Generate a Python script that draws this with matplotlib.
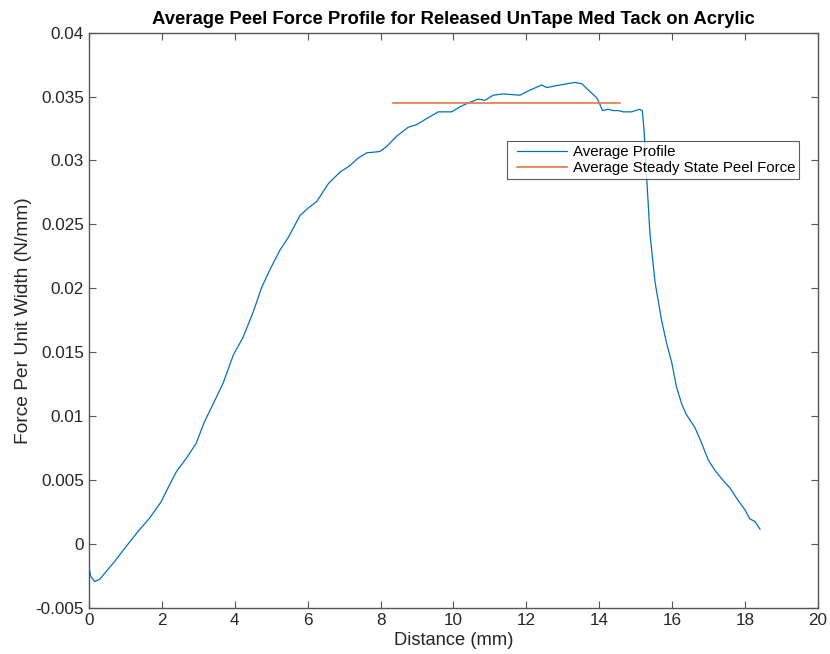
import matplotlib
matplotlib.use("Agg")
import matplotlib.pyplot as plt
from matplotlib.legend_handler import HandlerLine2D

# Averaged peel profile (distance in mm, force per unit width in N/mm)
distance_mm = [0.00, 0.05, 0.16, 0.30, 0.43, 0.70, 0.98, 1.34, 1.66, 1.98,
               2.20, 2.40, 2.67, 2.94, 3.17, 3.41, 3.68, 3.96, 4.23, 4.51,
               4.74, 4.97, 5.24, 5.47, 5.79, 6.02, 6.25, 6.57, 6.89, 7.16,
               7.39, 7.62, 7.98, 8.17, 8.44, 8.76, 8.99, 9.22, 9.58, 9.95,
               10.18, 10.41, 10.68, 10.86, 11.09, 11.37, 11.82, 12.10, 12.42, 12.56,
               12.92, 13.33, 13.52, 13.74, 13.93, 14.00, 14.09, 14.24, 14.38, 14.52,
               14.66, 14.89, 15.10, 15.18, 15.23, 15.30, 15.39, 15.53, 15.71, 15.85,
               15.99, 16.12, 16.26, 16.38, 16.63, 16.81, 16.99, 17.17, 17.40, 17.59,
               17.77, 18.00, 18.13, 18.27, 18.41]
force_n_per_mm = [-0.0018, -0.0025, -0.0029, -0.0027, -0.00225, -0.00134, -0.0003, 0.0010, 0.00205, 0.00334,
                  0.0046, 0.0057, 0.00673, 0.0079, 0.0096, 0.0110, 0.0126, 0.0148, 0.0162, 0.0182,
                  0.0201, 0.0215, 0.0230, 0.0240, 0.0257, 0.0263, 0.0268, 0.0282, 0.0291, 0.0296,
                  0.0302, 0.0306, 0.0307, 0.0311, 0.0319, 0.0326, 0.0328, 0.0332, 0.0338, 0.0338,
                  0.0342, 0.0345, 0.0348, 0.0347, 0.0351, 0.0352, 0.0351, 0.0355, 0.0359, 0.0357,
                  0.0359, 0.0361, 0.0360, 0.0354, 0.0349, 0.0345, 0.0339, 0.0340, 0.0339, 0.0339,
                  0.0338, 0.0338, 0.0340, 0.0339, 0.0323, 0.0287, 0.0243, 0.0205, 0.0175, 0.0157,
                  0.0142, 0.0123, 0.0110, 0.0102, 0.0091, 0.0079, 0.0066, 0.0058, 0.0050, 0.0044,
                  0.0036, 0.0027, 0.0020, 0.0018, 0.0012]

# Steady-state peel force and the window it was averaged over
steady_start_mm = 8.35
steady_end_mm = 14.58
steady_force = 0.03447

x_ticks = [0, 2, 4, 6, 8, 10, 12, 14, 16, 18, 20]
y_ticks = [-0.005, 0, 0.005, 0.01, 0.015, 0.02, 0.025, 0.03, 0.035, 0.04]
y_tick_labels = ["-0.005", "0", "0.005", "0.01", "0.015", "0.02", "0.025", "0.03", "0.035", "0.04"]

plt.rcParams["font.family"] = ["Liberation Sans", "DejaVu Sans"]

fig = plt.figure(figsize=(8.30, 6.54), dpi=100)
ax = fig.add_axes([0.1072, 0.0696, 0.8783, 0.8807])

ax.plot(distance_mm, force_n_per_mm, color="#0072BD", lw=0.9, label="Average Profile")
ax.plot([steady_start_mm, steady_end_mm], [steady_force, steady_force],
        color="#E8764A", lw=1.2, label="Average Steady State Peel Force")

ax.set_xlim(0, 20)
ax.set_ylim(-0.005, 0.04)
ax.set_xticks(x_ticks)
ax.set_xticklabels([str(t) for t in x_ticks])
ax.set_yticks(y_ticks)
ax.set_yticklabels(y_tick_labels)

axis_color = "#262626"
for side in ax.spines.values():
    side.set_color("#555555")
    side.set_linewidth(1.0)
ax.tick_params(direction="in", length=5, width=0.8, colors="#555555",
               labelcolor=axis_color, labelsize=12.3, top=True, right=True)

ax.set_xlabel("Distance (mm)", fontsize=13.2, color=axis_color, labelpad=2.5)
ax.set_ylabel("Force Per Unit Width (N/mm)", fontsize=13.8, color=axis_color, labelpad=3)
ax.set_title("Average Peel Force Profile for Released UnTape Med Tack on Acrylic",
             fontsize=13.3, fontweight="bold", color="black", pad=6)

leg = ax.legend(loc="upper left", bbox_to_anchor=(0.5734, 0.8116), fontsize=10.8,
                frameon=True, fancybox=False, borderpad=0.25, labelspacing=0.17,
                handlelength=3.75, handletextpad=0.4, borderaxespad=0.0,
                handler_map={plt.Line2D: HandlerLine2D(xpad=0.45)})
leg.get_frame().set_edgecolor("#333333")
leg.get_frame().set_linewidth(0.8)

fig.savefig("out.png", dpi=100)
